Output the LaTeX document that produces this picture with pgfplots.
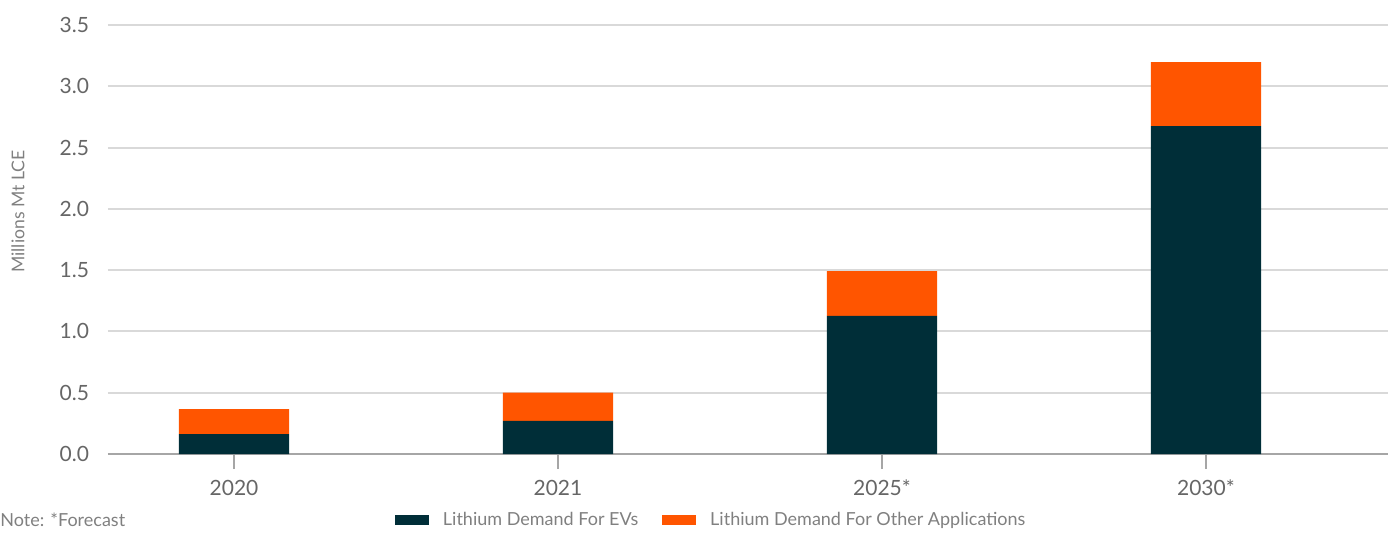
\documentclass[border=0pt]{standalone}
\usepackage{fontspec}
\setmainfont{Lato}
\usepackage{pgfplots}
\pgfplotsset{compat=1.18}
\definecolor{evteal}{HTML}{002E38}
\definecolor{otherorange}{HTML}{FF5500}
\definecolor{gridgray}{HTML}{D9D9D9}
\definecolor{axisgray}{HTML}{A6A6A6}
\definecolor{txtgray}{HTML}{666666}
\definecolor{lblgray}{HTML}{808080}
\begin{document}
\begin{tikzpicture}
\begin{axis}[
    scale only axis,
    width=640pt, height=214.5pt,
    ybar stacked,
    bar width=0.34,
    xmin=-0.389, xmax=3.562,
    ymin=0, ymax=3.5,
    ytick={0,0.5,...,3.5},
    xtick=data,
    xticklabels={2020,2021,2025*,2030*},
    axis x line*=bottom,
    axis y line*=left,
    x axis line style={axisgray, line width=0.8pt, -},
    y axis line style={draw=none},
    ymajorgrids=true,
    grid style={gridgray, line width=1pt},
    major x tick style={axisgray, line width=0.6pt},
    xtick align=outside,
    major tick length=7.5pt,
    ytick style={draw=none},
    /pgf/number format/.cd, fixed, fixed zerofill, precision=1, assume math mode=true,
    /pgfplots/.cd,
    yticklabel style={font=\fontsize{10.5}{12}\selectfont, text=txtgray, anchor=east, xshift=-6pt},
    xticklabel style={font=\fontsize{10.5}{12}\selectfont, text=txtgray, yshift=-2pt},
    ylabel={Millions Mt LCE},
    ylabel style={at={(rel axis cs:0,0.565)}, anchor=center, rotate=0, yshift=45pt, font=\fontsize{8.8}{10}\selectfont, text=lblgray},
    legend columns=2,
    legend style={at={(rel axis cs:0.472,0)}, anchor=center, yshift=-33pt, draw=none, fill=none,
        font=\fontsize{9}{10}\selectfont, text=lblgray,
        /tikz/every odd column/.append style={column sep=5pt},
        /tikz/every even column/.append style={column sep=10pt}},
    legend image code/.code={\fill[#1] (0pt,-2.5pt) rectangle (17pt,2.5pt);},
    clip=false,
]
\addplot+[draw=none, fill=evteal] coordinates {(0,0.163) (1,0.27) (2,1.126) (3,2.675)};
\addlegendentry{Lithium Demand For EVs}
\addplot+[draw=none, fill=otherorange] coordinates {(0,0.204) (1,0.23) (2,0.366) (3,0.522)};
\addlegendentry{Lithium Demand For Other Applications}
\node[anchor=west, inner sep=0pt, font=\fontsize{9}{10}\selectfont, text=lblgray] at ([xshift=-54pt, yshift=-33pt]rel axis cs:0,0) {Note: *Forecast};
\end{axis}
\pgfresetboundingbox
\useasboundingbox ([xshift=-54pt, yshift=-39pt]current axis.south west) rectangle ([yshift=12.5pt]current axis.north east);
\end{tikzpicture}
\end{document}
